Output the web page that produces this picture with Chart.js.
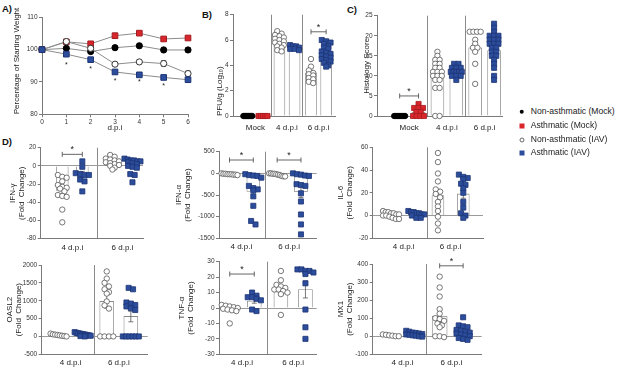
<!DOCTYPE html>
<html>
<head>
<meta charset="utf-8">
<script src="https://cdn.jsdelivr.net/npm/chart.js@4.4.1/dist/chart.umd.min.js"></script>
<style>
  html, body { margin: 0; padding: 0; background: #fff; }
  body { position: relative; width: 617px; height: 369px; overflow: hidden;
         font-family: "Liberation Sans", Arial, sans-serif; color: #222; }
  canvas { position: absolute; }
  .tag { position: absolute; font-size: 9.5px; font-weight: bold; line-height: 10px; color: #111; }
  #legend { position: absolute; left: 514px; top: 104.8px; font-size: 8.6px; color: #222; }
  #legend .row { position: relative; height: 13.9px; line-height: 13.9px; padding-left: 16.7px; white-space: nowrap; }
  #legend .mk { position: absolute; left: 7.7px; top: 50%; transform: translate(-50%, -50%); box-sizing: border-box; }
</style>
</head>
<body>
<div class="tag" style="left:2px;top:3.5px">A)</div>
<div class="tag" style="left:202px;top:10px">B)</div>
<div class="tag" style="left:347px;top:4.5px">C)</div>
<div class="tag" style="left:2px;top:136.5px">D)</div>

<canvas id="chartA"></canvas>
<canvas id="chartB"></canvas>
<canvas id="chartC"></canvas>
<canvas id="chartIFNg"></canvas>
<canvas id="chartIFNa"></canvas>
<canvas id="chartIL6"></canvas>
<canvas id="chartOASL2"></canvas>
<canvas id="chartTNFa"></canvas>
<canvas id="chartMX1"></canvas>
<div id="legend"></div>

<script>
// ---------------- data ----------------
const legendLabels = ['Non-asthmatic (Mock)', 'Asthmatic (Mock)', 'Non-asthmatic (IAV)', 'Asthmatic (IAV)'];
const groups3 = ['Mock', '4 d.p.i', '6 d.p.i'];
const groups2 = ['4 d.p.i', '6 d.p.i'];

// A) body weight, % of starting weight
const days = [0, 1, 2, 3, 4, 5, 6];
const wtNonAsthMock = [100, 100.4, 99.4, 100.6, 101.2, 99.9, 99.9];
const wtAsthMock    = [100, 102.4, 101.8, 104.3, 105.1, 103.3, 103.6];
const wtNonAsthIAV  = [100, 102.5, 100.4, 95.5, 96.2, 95.7, 92.6];
const wtAsthIAV     = [100, 98.6, 96.9, 93.1, 92.2, 91.4, 90.7];
const wtErrNonAsthMock = [0, 0.5, 0.5, 0.6, 0.7, 0.8, 0.7];
const wtErrAsthMock    = [0, 0.4, 0.5, 0.8, 0.5, 0.5, 0.5];
const wtErrNonAsthIAV  = [0, 0.4, 0.6, 0.5, 0.6, 0.9, 0.8];
const wtErrAsthIAV     = [0, 0.4, 0.4, 0.5, 0.5, 0.6, 0.6];
const wtStarDays  = [1, 2, 3, 4, 5];
const wtStarLevel = [95.9, 94.7, 91.0, 90.5, 89.3];

// B) lung viral titre
const pfuNonAsth = [
  [0, 0, 0, 0, 0, 0, 0, 0, 0, 0],
  [6.7, 6.5, 6.4, 6.3, 6.2, 6.1, 6.0, 5.9, 5.8, 5.7, 5.6, 5.5, 5.4, 5.2, 5.1],
  [4.5, 3.9, 3.6, 3.4, 3.3, 3.2, 3.0, 2.9, 2.7, 2.6]
];
const pfuAsth = [
  [0, 0, 0, 0, 0],
  [5.6, 5.5, 5.5, 5.4, 5.3, 5.3, 5.2],
  [6.0, 5.9, 5.8, 5.7, 5.5, 5.4, 5.3, 5.1, 5.0, 4.9, 4.8, 4.7, 4.6, 4.5, 4.4, 4.3, 4.2, 4.0, 3.9]
];
const pfuMeanNonAsth = [0, 5.8, 3.4];
const pfuMeanAsth    = [0, 5.4, 4.9];
const pfuSemNonAsth  = [0, 0.12, 0.2];
const pfuSemAsth     = [0, 0.06, 0.14];
const pfuSigGroups = [2];
const pfuSigLevels = [6.65];

// C) histology score
const histNonAsth = [
  [0, 0, 0, 0, 0, 0, 0, 0, 0, 0, 0, 0],
  [16, 15, 14, 14, 13, 13, 12, 12, 11, 11, 11, 10, 10, 10, 9, 9, 7, 7, 0, 0],
  [21, 21, 21, 21, 19, 18, 17, 17, 16, 13, 8]
];
const histAsth = [
  [3, 2, 2, 2, 1, 1, 0, 0, 0, 0],
  [13, 13, 12, 12, 12, 11, 11, 11, 11, 11, 10, 10, 10, 9],
  [23, 22, 21, 20, 20, 20, 19, 19, 19, 18, 18, 18, 17, 17, 16, 16, 15, 15, 14, 13, 12, 10, 9]
];
const histMeanNonAsth = [0, 10, 17];
const histMeanAsth    = [0.9, 11, 16.3];
const histSemNonAsth  = [0, 1, 1];
const histSemAsth     = [0.3, 0.35, 0.9];
const histSigGroups = [0];
const histSigLevels = [5];

// D) cytokine / ISG fold change
const ifngNonAsth = [[-10, -12, -13, -17, -21, -23, -24, -25, -28, -32, -33, -34, -48, -62],
                     [12, 10, 8, 7, 6, 5, 4, 3, 2, 1, 0, -2, -4]];
const ifngAsth    = [[5, -1, -8, -9, -10, -10, -15, -17, -28],
                     [8, 7, 6, 6, 5, 5, 4, 3, 2, 0, -1, -2, -9, -10, -18]];
const ifngMeanNonAsth = [-27, 4];
const ifngMeanAsth    = [-9, 1];
const ifngSemNonAsth  = [4, 1.3];
const ifngSemAsth     = [3, 1.8];
const ifngSigGroups = [0];
const ifngSigLevels = [12.7];

const ifnaNonAsth = [[0, -10, -10, -20, -20, -30, -30, -40, -20],
                     [0, 0, -10, -10, -20, -30, -40, -60, -70, -70]];
const ifnaAsth    = [[-20, -40, -50, -60, -100, -290, -340, -370, -390, -530, -750, -1100, -1180],
                     [0, -20, -30, -50, -60, -250, -270, -290, -460, -650, -950, -1180, -1410]];
const ifnaMeanNonAsth = [-20, -30];
const ifnaMeanAsth    = [-420, -425];
const ifnaSemNonAsth  = [5, 8];
const ifnaSemAsth     = [110, 130];
const ifnaSigGroups = [0, 1];
const ifnaSigLevels = [308, 308];

const il6NonAsth = [[4, 3, 3, 2, 2, 1, 1, 0, 0, -1, -2, -3, -3],
                    [55, 47, 37, 30, 23, 21, 19, 16, 12, 8, 4, -1, -7, -13]];
const il6Asth    = [[4, 3, 3, 2, 2, 1, 1, 0, -2, -2],
                    [36, 34, 33, 32, 28, 27, 24, 20, 12, 7, 2, 0, -2]];
const il6MeanNonAsth = [1, 17.6];
const il6MeanAsth    = [1.3, 19];
const il6SemNonAsth  = [0.6, 5.5];
const il6SemAsth     = [0.7, 3.8];

const oaslNonAsth = [[80, 60, 50, 40, 30, 20, 10, 0],
                     [1820, 1620, 1500, 1400, 1320, 1240, 1200, 980, 870, 780, 0, 0, 0, 0]];
const oaslAsth    = [[120, 100, 90, 80, 70, 60, 50, 40, 30, 20, 10, 0],
                     [1360, 1320, 950, 920, 880, 840, 790, 740, 0, 0, 0, 0, 0, 0]];
const oaslMeanNonAsth = [40, 980];
const oaslMeanAsth    = [55, 560];
const oaslSemNonAsth  = [10, 190];
const oaslSemAsth     = [10, 150];

const tnfNonAsth = [[2, 1.5, 1, 0.5, 0, -0.5, -1, -1.5, -2, -10],
                    [24, 18, 15, 14, 13, 12, 12, 11, 10, 9, -4.5]];
const tnfAsth    = [[10, 8, 7, 7, 6, 5, -1, -2],
                    [25, 25, 24, 24, 23, 22, 16, -1, -12.5, -20]];
const tnfMeanNonAsth = [-0.5, 10.5];
const tnfMeanAsth    = [4.5, 12];
const tnfSemNonAsth  = [1, 2];
const tnfSemAsth     = [1.4, 5.5];
const tnfSigGroups = [0];
const tnfSigLevels = [22];

const mx1NonAsth = [[10, 8, 5, 3, 0, 0],
                    [330, 270, 220, 150, 125, 100, 95, 85, 70, 60, 50, 0, 0, -5]];
const mx1Asth    = [[30, 25, 20, 18, 15, 12, 10, 8, 5, 3, 0, -2],
                    [105, 60, 55, 50, 35, 30, 25, 20, 15, 10, 5, 0, -10, -15, -20]];
const mx1MeanNonAsth = [5, 110];
const mx1MeanAsth    = [12, 25];
const mx1SemNonAsth  = [2, 35];
const mx1SemAsth     = [3, 9];
const mx1SigGroups = [1];
const mx1SigLevels = [390];

// ---------------- styling ----------------
const FONT = '"Liberation Sans", Arial, Helvetica, sans-serif';
Chart.defaults.font.family = FONT;
Chart.defaults.color = '#333';
Chart.defaults.animation = false;
Chart.defaults.responsive = false;
Chart.defaults.plugins.legend.display = false;
Chart.defaults.plugins.tooltip.enabled = false;

const AXIS = '#7a7a7a';
const SEP = '#8a8a8a';
const BLUE = '#2c4d9c', BLUE_EDGE = '#1d3575';
const RED = '#d8262c', RED_EDGE = '#a51c20';
const NONE = 'rgba(0,0,0,0)';

// error bars (mean ± SEM), drawn from dataset.errors through the y scale
const errorBars = {
  id: 'errorBars',
  draw(chart, index) {
    const ds = chart.data.datasets[index];
    const meta = chart.getDatasetMeta(index);
    const ys = chart.scales.y;
    const ctx = chart.ctx;
    ctx.save();
    ctx.strokeStyle = '#555';
    ctx.lineWidth = 0.8;
    meta.data.forEach((el, j) => {
      const e = ds.errors[j];
      if (!e) return;
      const v = ds.data[j].y;
      const hi = ys.getPixelForValue(v + e), lo = ys.getPixelForValue(v - e);
      const x = el.x, cap = 2.5;
      ctx.beginPath();
      ctx.moveTo(x, hi); ctx.lineTo(x, lo);
      ctx.moveTo(x - cap, hi); ctx.lineTo(x + cap, hi);
      ctx.moveTo(x - cap, lo); ctx.lineTo(x + cap, lo);
      ctx.stroke();
    });
    ctx.restore();
  },
  beforeDatasetDraw(chart, args) {
    const ds = chart.data.datasets[args.index];
    if (ds.errors && ds.errorsBehind) this.draw(chart, args.index);
  },
  afterDatasetDraw(chart, args) {
    const ds = chart.data.datasets[args.index];
    if (ds.errors && !ds.errorsBehind) this.draw(chart, args.index);
  }
};

// significance brackets and asterisks
const sigMarks = {
  id: 'sigMarks',
  afterDraw(chart, args, opts) {
    const {ctx, scales: {x, y}} = chart;
    const size = opts.starSize || 9;
    ctx.save();
    ctx.strokeStyle = '#555';
    ctx.fillStyle = '#222';
    ctx.lineWidth = 0.9;
    ctx.font = size + 'px ' + FONT;
    ctx.textAlign = 'center';
    ctx.textBaseline = 'alphabetic';
    (opts.marks || []).forEach(m => {
      const x1 = x.getPixelForValue(m.from), x2 = x.getPixelForValue(m.to);
      const py = y.getPixelForValue(m.y);
      let starY = py;
      if (m.from !== m.to) {
        ctx.beginPath();
        ctx.moveTo(x1, py); ctx.lineTo(x2, py);
        ctx.moveTo(x1, py - 2.5); ctx.lineTo(x1, py + 2.5);
        ctx.moveTo(x2, py - 2.5); ctx.lineTo(x2, py + 2.5);
        ctx.stroke();
        starY = py - 7;
      }
      ctx.fillText('*', (x1 + x2) / 2, starY + 0.57 * size);
    });
    ctx.restore();
  }
};

function place(id, box) {
  const c = document.getElementById(id);
  c.width = box.w;
  c.height = box.h;
  c.style.left = box.l + 'px';
  c.style.top = box.t + 'px';
  return c;
}

function layoutFor(box, area) {
  return {padding: {left: 0, bottom: 0, top: area.y0 - box.t, right: box.l + box.w - area.x1}};
}

function yScale(box, area, spec) {
  return {
    type: 'linear', min: spec.yMin, max: spec.yMax,
    afterFit: s => { s.width = area.x0 - box.l; },
    ticks: {stepSize: spec.yStep, font: {size: 6.5}, padding: 1.5, color: '#333', callback: v => String(v)},
    grid: {
      drawOnChartArea: !!spec.zeroLine,
      color: c => (spec.zeroLine && c.tick && c.tick.value === 0) ? '#9a9a9a' : NONE,
      tickLength: 3, tickColor: AXIS
    },
    border: {display: true, color: AXIS, width: 1},
    title: {
      display: true, text: spec.title, align: spec.titleAlign || 'center', color: '#222',
      font: {size: 8, lineHeight: 1.15},
      padding: {top: spec.titleX - box.l - 4.6, bottom: 0}
    }
  };
}

// spread points that share a value side by side (beeswarm-like)
function swarm(values, center, pxPerX, pxPerY, maxHalf) {
  const rowTol = 3.6, gapPx = 4.4;
  const sorted = [...values].sort((a, b) => b - a);
  const rows = [];
  sorted.forEach(v => {
    const row = rows[rows.length - 1];
    if (row && (row[0] - v) * pxPerY < rowTol) row.push(v);
    else rows.push([v]);
  });
  const pts = [];
  rows.forEach(row => {
    const n = row.length;
    const gap = n > 1 ? Math.min(gapPx, 2 * maxHalf / (n - 1)) : 0;
    row.forEach((v, k) => pts.push({x: center + (k - (n - 1) / 2) * gap / pxPerX, y: v}));
  });
  return pts;
}

function pointSet(pts, style, r, fill, edge) {
  return {type: 'scatter', data: pts, pointStyle: style, pointRadius: r,
    pointBackgroundColor: fill, pointBorderColor: edge, pointBorderWidth: 0.8, clip: false, order: 0};
}

function barSet(means, sems, shift, width) {
  return {type: 'bar', data: means.map((m, i) => ({x: i + shift, y: m})), errors: sems,
    backgroundColor: '#fff', borderColor: '#8a8a8a', borderWidth: 0.8,
    barThickness: width, grouped: false, order: 1, clip: false};
}

function groupChart(id, box, area, spec) {
  const pxPerX = (area.x1 - area.x0) / (spec.xMax - spec.xMin);
  const pxPerY = (area.y1 - area.y0) / (spec.yMax - spec.yMin);
  const hasMock = spec.groups[0] === 'Mock';
  const datasets = [];
  spec.groups.forEach((g, i) => {
    const mock = hasMock && i === 0;
    datasets.push(pointSet(swarm(spec.asth[i], i + spec.off, pxPerX, pxPerY, spec.spread),
      'rect', 3.6, mock ? RED : BLUE, mock ? RED_EDGE : BLUE_EDGE));
    datasets.push(pointSet(swarm(spec.nonAsth[i], i - spec.off, pxPerX, pxPerY, spec.spread),
      'circle', 2.7, mock ? '#000' : '#fff', mock ? '#000' : '#555'));
  });
  datasets.push(barSet(spec.meanN, spec.semN, -spec.off, spec.barW));
  datasets.push(barSet(spec.meanA, spec.semA, spec.off, spec.barW));

  const n = spec.groups.length;
  const tickVals = [];
  for (let i = 0; i < n; i++) { tickVals.push(i); if (i < n - 1) tickVals.push(i + 0.5); }
  const marks = (spec.sigGroups || []).map((g, k) => ({from: g - spec.off, to: g + spec.off, y: spec.sigLevels[k]}));

  return new Chart(place(id, box), {
    type: 'scatter',
    data: {datasets},
    options: {
      layout: layoutFor(box, area),
      scales: {
        x: {
          type: 'linear', min: spec.xMin, max: spec.xMax, offset: false,
          afterFit: s => { s.height = box.t + box.h - area.y1; },
          afterBuildTicks: s => { s.ticks = tickVals.map(v => ({value: v})); },
          ticks: {autoSkip: false, maxRotation: 0, padding: spec.labelPad, font: {size: 8}, color: '#222',
            callback: v => Number.isInteger(v) ? spec.groups[v] : ''},
          grid: {offset: false, drawTicks: false, color: c => (c.tick && !Number.isInteger(c.tick.value)) ? SEP : NONE},
          border: {display: true, color: AXIS}
        },
        y: yScale(box, area, spec)
      },
      plugins: {sigMarks: {marks}}
    },
    plugins: [errorBars, sigMarks]
  });
}

// ---------------- A) weight curves ----------------
function wtSeries(values, errors, style, r, fill, edge) {
  return {data: days.map((d, i) => ({x: d, y: values[i]})), errors, errorsBehind: true,
    pointStyle: style, pointRadius: r, pointBackgroundColor: fill, pointBorderColor: edge, pointBorderWidth: 1,
    borderColor: '#8c8c8c', borderWidth: 1, tension: 0, clip: false};
}

const boxA = {l: 0, t: 0, w: 200, h: 135};
const areaA = {x0: 42, x1: 188, y0: 17.3, y1: 114.3};
new Chart(place('chartA', boxA), {
  type: 'line',
  data: {datasets: [
    wtSeries(wtAsthIAV, wtErrAsthIAV, 'rect', 4, BLUE, BLUE_EDGE),
    wtSeries(wtNonAsthIAV, wtErrNonAsthIAV, 'circle', 3.1, '#fff', '#333'),
    wtSeries(wtNonAsthMock, wtErrNonAsthMock, 'circle', 3.1, '#000', '#000'),
    wtSeries(wtAsthMock, wtErrAsthMock, 'rect', 4, RED, RED_EDGE)
  ]},
  options: {
    layout: layoutFor(boxA, areaA),
    scales: {
      x: {
        type: 'linear', min: 0, max: 6,
        afterFit: s => { s.height = boxA.t + boxA.h - areaA.y1; },
        ticks: {stepSize: 1, font: {size: 6.5}, padding: 1, color: '#333'},
        grid: {drawOnChartArea: false, tickLength: 3, tickColor: AXIS},
        border: {display: true, color: AXIS},
        title: {display: true, text: 'd.p.i', color: '#222', font: {size: 8, lineHeight: 1.15}, padding: {top: 0, bottom: 2.7}}
      },
      y: yScale(boxA, areaA, {yMin: 80, yMax: 110, yStep: 10, title: 'Percentage of Starting Weight', titleX: 16.7, titleAlign: 'start'})
    },
    plugins: {sigMarks: {starSize: 7, marks: wtStarDays.map((d, i) => ({from: d, to: d, y: wtStarLevel[i]}))}}
  },
  plugins: [errorBars, sigMarks]
});

// ---------------- B) and C) ----------------
groupChart('chartB', {l: 196, t: 0, w: 144, h: 135}, {x0: 233, x1: 335, y0: 14.7, y1: 116}, {
  groups: groups3, nonAsth: pfuNonAsth, asth: pfuAsth,
  meanN: pfuMeanNonAsth, meanA: pfuMeanAsth, semN: pfuSemNonAsth, semA: pfuSemAsth,
  xMin: -0.71, xMax: 2.52, off: 0.24, yMin: 0, yMax: 8, yStep: 2,
  title: 'PFU/g (Log\u2081\u2080)', titleX: 220, titleAlign: 'start', barW: 11, labelPad: 6.5, spread: 4.5,
  sigGroups: pfuSigGroups, sigLevels: pfuSigLevels
});

groupChart('chartC', {l: 340, t: 0, w: 170, h: 135}, {x0: 377, x1: 502, y0: 15.7, y1: 116}, {
  groups: groups3, nonAsth: histNonAsth, asth: histAsth,
  meanN: histMeanNonAsth, meanA: histMeanAsth, semN: histSemNonAsth, semA: histSemAsth,
  xMin: -0.85, xMax: 2.46, off: 0.25, yMin: 0, yMax: 25, yStep: 5,
  title: 'Histology Score', titleX: 366.7, barW: 13, labelPad: 6.5, spread: 5.5,
  sigGroups: histSigGroups, sigLevels: histSigLevels
});

// ---------------- D) ----------------
const FC = '(Fold  Change)';
groupChart('chartIFNg', {l: 0, t: 135, w: 150, h: 117}, {x0: 40.7, x1: 143, y0: 147.7, y1: 238.7}, {
  groups: groups2, nonAsth: ifngNonAsth, asth: ifngAsth,
  meanN: ifngMeanNonAsth, meanA: ifngMeanAsth, semN: ifngSemNonAsth, semA: ifngSemAsth,
  xMin: -0.63, xMax: 1.41, off: 0.2, yMin: -80, yMax: 20, yStep: 20, zeroLine: true,
  title: ['IFN-\u03b3', FC], titleX: 13, barW: 12, labelPad: 4, spread: 8,
  sigGroups: ifngSigGroups, sigLevels: ifngSigLevels
});

groupChart('chartIFNa', {l: 172, t: 135, w: 150, h: 117}, {x0: 219, x1: 316.7, y0: 151.7, y1: 238.3}, {
  groups: groups2, nonAsth: ifnaNonAsth, asth: ifnaAsth,
  meanN: ifnaMeanNonAsth, meanA: ifnaMeanAsth, semN: ifnaSemNonAsth, semA: ifnaSemAsth,
  xMin: -0.47, xMax: 1.58, off: 0.25, yMin: -1500, yMax: 500, yStep: 500, zeroLine: true,
  title: ['IFN-\u03b1', FC], titleX: 179, barW: 13, labelPad: 4, spread: 8,
  sigGroups: ifnaSigGroups, sigLevels: ifnaSigLevels
});

groupChart('chartIL6', {l: 330, t: 135, w: 160, h: 117}, {x0: 372.7, x1: 483, y0: 147.3, y1: 238.3}, {
  groups: groups2, nonAsth: il6NonAsth, asth: il6Asth,
  meanN: il6MeanNonAsth, meanA: il6MeanAsth, semN: il6SemNonAsth, semA: il6SemAsth,
  xMin: -0.66, xMax: 1.69, off: 0.27, yMin: -20, yMax: 60, yStep: 20, zeroLine: true,
  title: ['IL-6', FC], titleX: 341, barW: 12, labelPad: 4, spread: 8
});

groupChart('chartOASL2', {l: 0, t: 252, w: 155, h: 117}, {x0: 41.7, x1: 147.7, y0: 265, y1: 354.3}, {
  groups: groups2, nonAsth: oaslNonAsth, asth: oaslAsth,
  meanN: oaslMeanNonAsth, meanA: oaslMeanAsth, semN: oaslSemNonAsth, semA: oaslSemAsth,
  xMin: -0.6, xMax: 1.6, off: 0.25, yMin: -500, yMax: 2000, yStep: 500, zeroLine: true,
  title: ['OASL2', FC], titleX: 10, barW: 14, labelPad: 3.4, spread: 8
});

groupChart('chartTNFa', {l: 172, t: 252, w: 150, h: 117}, {x0: 219, x1: 316.7, y0: 261.7, y1: 354.3}, {
  groups: groups2, nonAsth: tnfNonAsth, asth: tnfAsth,
  meanN: tnfMeanNonAsth, meanA: tnfMeanAsth, semN: tnfSemNonAsth, semA: tnfSemAsth,
  xMin: -0.45, xMax: 1.46, off: 0.24, yMin: -30, yMax: 30, yStep: 10, zeroLine: true,
  title: ['TNF-\u03b1', FC], titleX: 182, barW: 14, labelPad: 3.4, spread: 8,
  sigGroups: tnfSigGroups, sigLevels: tnfSigLevels
});

groupChart('chartMX1', {l: 330, t: 252, w: 160, h: 117}, {x0: 372.7, x1: 481.7, y0: 264, y1: 354.3}, {
  groups: groups2, nonAsth: mx1NonAsth, asth: mx1Asth,
  meanN: mx1MeanNonAsth, meanA: mx1MeanAsth, semN: mx1SemNonAsth, semA: mx1SemAsth,
  xMin: -0.61, xMax: 1.62, off: 0.24, yMin: -100, yMax: 400, yStep: 100, zeroLine: true,
  title: ['MX1', FC], titleX: 341, barW: 15, labelPad: 3.4, spread: 8,
  sigGroups: mx1SigGroups, sigLevels: mx1SigLevels
});

// ---------------- legend ----------------
const legendMarkers = [
  'width:4.5px;height:4.5px;border-radius:50%;background:#000',
  'width:5px;height:5px;background:' + RED,
  'width:5px;height:5px;border-radius:50%;background:#fff;border:0.8px solid #666',
  'width:5px;height:5px;background:' + BLUE
];
const legend = document.getElementById('legend');
legendLabels.forEach((label, i) => {
  const row = document.createElement('div');
  row.className = 'row';
  const mk = document.createElement('span');
  mk.className = 'mk';
  mk.style.cssText += legendMarkers[i];
  row.appendChild(mk);
  row.appendChild(document.createTextNode(label));
  legend.appendChild(row);
});
</script>
</body>
</html>
